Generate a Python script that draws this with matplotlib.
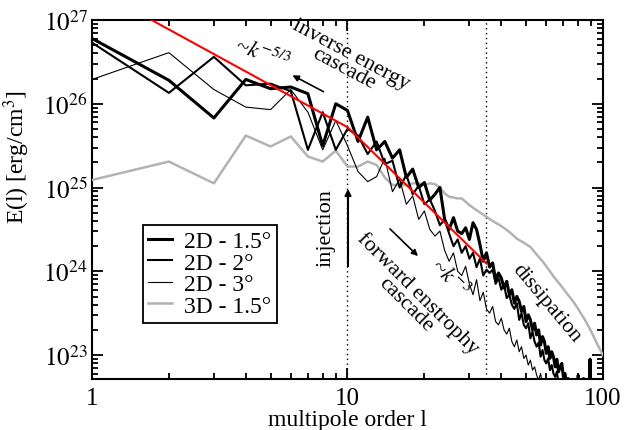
import numpy as np
import matplotlib
matplotlib.use("Agg")
import matplotlib.pyplot as plt
from matplotlib.ticker import LogLocator, NullFormatter

plt.rcParams['font.family'] = ['Liberation Serif', 'DejaVu Serif']
plt.rcParams['mathtext.fontset'] = 'stix'

# multipole order l = 1..100 for the 2D runs
l_2d = np.arange(1, 101)

# log10 E(l) for 2D - 1.5 deg (thick)
logE_2d_15 = [
    26.78, 26.28, 25.83, 26.29, 26.18, 26.20, 26.12, 25.50, 26.00, 25.92,
    25.55, 25.84, 25.45, 25.55, 25.35, 25.45, 25.12, 25.22, 25.00, 25.06,
    24.85, 24.92, 25.00, 24.62, 24.50, 24.64, 24.48, 24.45, 24.52, 24.38,
    24.58, 24.50, 24.32, 24.12, 24.22, 24.05, 24.10, 23.90, 23.98, 23.92,
    23.80, 23.88, 23.72, 23.78, 23.62, 23.70, 23.64, 23.52, 23.58, 23.40,
    23.48, 23.42, 23.30, 23.38, 23.24, 23.30, 23.12, 23.22, 23.16, 23.02,
    23.10, 22.96, 23.04, 22.98, 22.86, 22.95, 22.80, 22.86, 22.90, 22.74,
    22.78, 22.64, 22.72, 22.68, 22.58, 22.66, 22.55, 22.62, 22.50, 22.76,
    22.52, 22.60, 22.44, 22.72, 22.46, 22.54, 22.40, 22.50, 22.95, 22.40,
    22.45, 22.35, 22.42, 22.30, 22.38, 22.28, 22.34, 22.25, 22.30, 22.22]

# log10 E(l) for 2D - 2 deg (medium)
logE_2d_2 = [
    26.73, 26.13, 26.56, 26.22, 26.24, 26.15, 25.45, 25.90, 25.45, 25.70,
    25.62, 25.40, 25.55, 25.28, 25.32, 25.00, 25.15, 24.92, 25.02, 24.80,
    24.86, 24.72, 24.55, 24.62, 24.45, 24.30, 24.38, 24.22, 24.30, 24.15,
    24.22, 24.05, 24.15, 23.95, 24.02, 23.98, 24.02, 23.85, 23.92, 23.78,
    23.84, 23.68, 23.72, 23.60, 23.55, 23.62, 23.42, 23.50, 23.36, 23.32,
    23.38, 23.20, 23.28, 23.16, 23.10, 23.15, 22.98, 23.06, 22.94, 22.90,
    22.96, 22.82, 22.88, 22.78, 22.74, 22.80, 22.66, 22.70, 22.62, 22.58,
    22.55, 22.62, 22.50, 22.58, 22.46, 22.52, 22.42, 22.48, 22.38, 22.44,
    22.34, 22.40, 22.30, 22.36, 22.26, 22.32, 22.22, 22.28, 22.18, 22.24,
    22.14, 22.20, 22.10, 22.16, 22.06, 22.12, 22.02, 22.08, 21.98, 22.04]

# log10 E(l) for 2D - 3 deg (thin)
logE_2d_3 = [
    26.29, 26.61, 26.17, 25.96, 25.93, 26.17, 25.90, 25.45, 25.80, 25.50,
    25.19, 25.07, 25.13, 25.35, 24.95, 25.10, 24.80, 24.90, 24.62, 24.72,
    24.50, 24.42, 24.48, 24.25, 24.12, 24.22, 24.00, 23.95, 24.06, 23.85,
    23.72, 23.90, 23.65, 23.75, 23.55, 23.50, 23.58, 23.40, 23.36, 23.44,
    23.30, 23.25, 23.32, 23.16, 23.10, 23.18, 23.04, 23.10, 22.96, 23.00,
    22.88, 22.94, 22.82, 22.86, 22.76, 22.70, 22.78, 22.64, 22.68, 22.58,
    22.64, 22.55, 22.58, 22.50, 22.54, 22.45, 22.48, 22.40, 22.44, 22.35,
    22.38, 22.30, 22.34, 22.26, 22.30, 22.22, 22.25, 22.18, 22.22, 22.14,
    22.18, 22.10, 22.14, 22.06, 22.10, 22.02, 22.06, 21.98, 22.02, 21.95,
    21.98, 21.92, 21.95, 21.88, 21.92, 21.85, 21.88, 21.82, 21.85, 21.80]

# 3D - 1.5 deg (grey)
l_3d = [1, 2, 3, 4, 5, 6, 7, 8, 9, 10, 11, 12, 13, 14, 15, 16, 17, 18, 19, 20,
        21, 22, 23, 24, 25, 26, 27, 28, 29, 30, 32, 35, 37, 40, 43, 46, 49, 52,
        55, 58, 61, 64, 68, 72, 76, 80, 85, 90, 95, 100]
logE_3d = [25.09, 25.31, 25.05, 25.62, 25.49, 25.61, 25.37, 25.31, 25.44, 25.25,
           25.25, 25.31, 25.27, 25.12, 25.03, 25.03, 25.03, 25.05, 25.05, 25.03,
           25.05, 25.04, 25.00, 24.93, 24.89, 24.88, 24.87, 24.87, 24.83, 24.79,
           24.73, 24.65, 24.60, 24.54, 24.47, 24.39, 24.34, 24.29, 24.20, 24.12,
           24.03, 23.94, 23.84, 23.74, 23.65, 23.55, 23.42, 23.28, 23.13, 23.00]

# power-law guide (red): k^-5/3 below l=10, k^-3 from 10 to 35
l_fit = [1, 10, 35]
E_fit = [2.45e27, 5.25e25, 1.24e24]

# vertical markers
l_injection = 10
l_dissipation = 35

labels = ['2D - 1.5°', '2D - 2°', '2D - 3°', '3D - 1.5°']

fig = plt.figure(figsize=(6.24, 4.31), dpi=100)
ax = fig.add_axes([0.1474, 0.1183, 0.8189, 0.833])

ax.plot(l_2d, 10 ** np.array(logE_2d_15), color='black', lw=2.2, label=labels[0], zorder=4)
ax.plot(l_2d, 10 ** np.array(logE_2d_2), color='black', lw=1.5, label=labels[1], zorder=4)
ax.plot(l_2d, 10 ** np.array(logE_2d_3), color='black', lw=0.8, label=labels[2], zorder=4)
ax.plot(l_3d, 10 ** np.array(logE_3d), color='#b3b3b3', lw=1.8, label=labels[3], zorder=3)
ax.plot(l_fit, E_fit, color='#ff0000', lw=1.5, zorder=5)

ax.axvline(l_injection, color='black', ls=(0, (1, 2.5)), lw=1.0, zorder=2)
ax.axvline(l_dissipation, color='black', ls=(0, (1, 2.5)), lw=1.0, zorder=2)

ax.set_xscale('log')
ax.set_yscale('log')
ax.set_xlim(1, 100)
ax.set_ylim(10 ** 22.714, 1e27)

ax.xaxis.set_minor_locator(LogLocator(base=10, subs=np.arange(2, 10), numticks=20))
ax.yaxis.set_minor_locator(LogLocator(base=10, subs=np.arange(2, 10), numticks=20))
ax.xaxis.set_minor_formatter(NullFormatter())
ax.yaxis.set_minor_formatter(NullFormatter())
ax.set_xticks([1, 10, 100])
ax.set_xticklabels(['1', '10', '100'])
ax.set_yticks([1e23, 1e24, 1e25, 1e26, 1e27])
ax.set_yticklabels([r'$10^{23}$', r'$10^{24}$', r'$10^{25}$', r'$10^{26}$', r'$10^{27}$'])

ax.tick_params(which='both', direction='in', top=True, right=True, labelsize=18, width=1.3)
ax.tick_params(which='major', length=8, pad=3)
ax.tick_params(axis='x', which='major', pad=6)
ax.tick_params(which='minor', length=4)
for s in ax.spines.values():
    s.set_linewidth(1.5)

ax.set_xlabel('multipole order l', fontsize=17, labelpad=0)
ax.set_ylabel(r'E(l) [erg/cm$^3$]', fontsize=17)
ax.yaxis.set_label_coords(-0.118, 0.62)

leg = ax.legend(loc='upper left', bbox_to_anchor=(0.099, 0.43), borderaxespad=0,
                fancybox=False, edgecolor='black', framealpha=1, fontsize=17,
                handlelength=1.0, handletextpad=0.5, labelspacing=0.0,
                borderpad=0.25)
leg.get_frame().set_linewidth(1.3)

def px(x, y):
    # convert figure pixel (from top-left) to figure fraction
    return (x / 624.0, 1 - y / 431.0)

fs = 16
fig.text(*px(262, 55), r'~$k^{-5/3}$', fontsize=fs, rotation=-20, ha='center', va='center')
fig.text(*px(347, 62), 'inverse energy\ncascade', fontsize=fs, rotation=-28,
         ha='center', va='center', multialignment='center', linespacing=0.8)
ax.annotate('', xy=px(290, 75), xycoords='figure fraction',
            xytext=px(326, 94), textcoords='figure fraction',
            arrowprops=dict(arrowstyle='-|>', color='black', lw=1.2, mutation_scale=9))

fig.text(*px(326, 228), 'injection', fontsize=fs, rotation=90, ha='center', va='center')
ax.annotate('', xy=px(348, 187), xycoords='figure fraction',
            xytext=px(348, 270), textcoords='figure fraction',
            arrowprops=dict(arrowstyle='-|>', color='black', lw=1.5, mutation_scale=9))

ax.annotate('', xy=px(420, 259), xycoords='figure fraction',
            xytext=px(388, 228), textcoords='figure fraction',
            arrowprops=dict(arrowstyle='-|>', color='black', lw=1.2, mutation_scale=9))
fig.text(*px(449, 279), r'~$k^{-3}$', fontsize=fs, rotation=-45, ha='center', va='center')
fig.text(*px(412, 299), 'forward enstrophy\ncascade', fontsize=fs, rotation=-45,
         ha='center', va='center', multialignment='center', linespacing=0.8)

fig.text(*px(546, 304), 'dissipation', fontsize=fs, rotation=-50, ha='center', va='center')

fig.savefig('out.png', dpi=100)
